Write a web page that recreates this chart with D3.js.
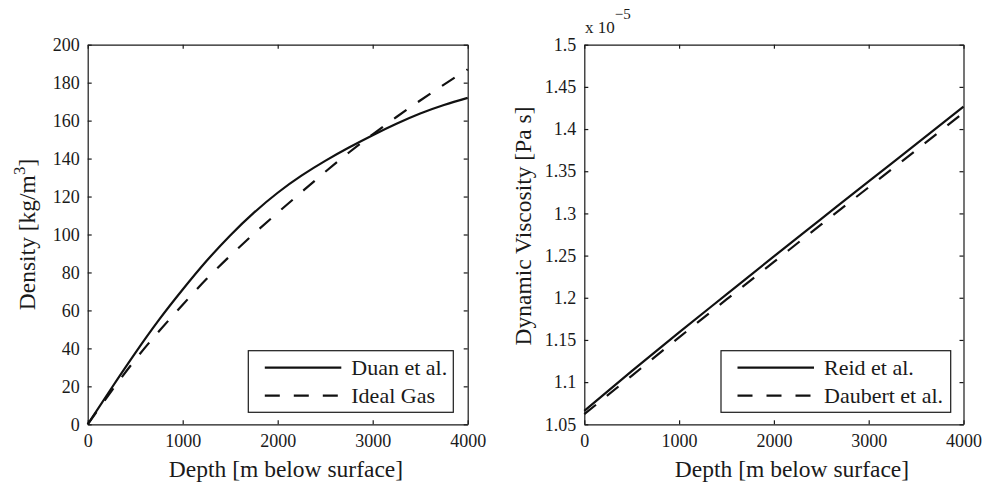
<!DOCTYPE html>
<meta charset="utf-8">
<style>
body { margin: 0; background: #fff; }
svg text { font-family: 'Liberation Serif', 'Times New Roman', serif; fill: #1a1a1a; }
.axis path, .axis line { stroke: #1a1a1a; stroke-width: 1.2; }
.axis text { font-size: 18px; }
.curve { fill: none; stroke: #111; stroke-width: 2.2; }
.dash { stroke-dasharray: 15,14; }
</style>
<body>
<script src="https://cdn.jsdelivr.net/npm/d3@7"></script>
<script>
// depth samples [m]
var depth = [0, 250, 500, 750, 1000, 1250, 1500, 1750, 2000, 2250, 2500, 2750, 3000, 3250, 3500, 3750, 4000];
// density [kg/m3]
var duan = [0, 19, 37.5, 55, 71, 86, 99.5, 111.5, 122, 131, 138.8, 145.8, 152.3, 158.3, 163.7, 168.2, 172];
var idealGas = [0, 17.5, 34, 49, 63, 76.5, 88.8, 100.4, 111.5, 122.3, 133, 143.2, 152.8, 161.9, 170.6, 179, 187];
// viscosity [1e-5 Pa s]
var depthV = [0, 500, 1000, 1500, 2000, 2500, 3000, 3500, 4000];
var reid = [1.066, 1.113, 1.159, 1.204, 1.249, 1.2935, 1.338, 1.382, 1.4265];
var daubert = [1.062, 1.1075, 1.153, 1.198, 1.2425, 1.287, 1.331, 1.375, 1.4195];

var xTicks = [0, 1000, 2000, 3000, 4000];
var densTicks = [0, 20, 40, 60, 80, 100, 120, 140, 160, 180, 200];
var viscTicks = [1.05, 1.1, 1.15, 1.2, 1.25, 1.3, 1.35, 1.4, 1.45, 1.5];

var svg = d3.select('body').append('svg')
  .attr('width', 995)
  .attr('height', 486);

function panel(opt) {
  var x = d3.scaleLinear().domain([0, 4000]).range([opt.left, opt.right]);
  var y = d3.scaleLinear().domain(opt.ydomain).range([424.3, 44.7]);
  var g = svg.append('g');

  // box: ticks on all four sides, pointing inward
  g.append('g').attr('class', 'axis')
    .attr('transform', 'translate(0,' + y.range()[0] + ')')
    .call(d3.axisBottom(x).tickValues(xTicks).tickSize(-4).tickSizeOuter(0).tickPadding(10).tickFormat(d3.format('d')));
  g.append('g').attr('class', 'axis')
    .attr('transform', 'translate(0,' + y.range()[1] + ')')
    .call(d3.axisTop(x).tickValues(xTicks).tickSize(-4).tickSizeOuter(0).tickFormat(''));
  g.append('g').attr('class', 'axis')
    .attr('transform', 'translate(' + opt.left + ',0)')
    .call(d3.axisLeft(y).tickValues(opt.yticks).tickSize(-4).tickSizeOuter(0).tickPadding(8).tickFormat(opt.yfmt));
  g.append('g').attr('class', 'axis')
    .attr('transform', 'translate(' + opt.right + ',0)')
    .call(d3.axisRight(y).tickValues(opt.yticks).tickSize(-4).tickSizeOuter(0).tickFormat(''));
  g.selectAll('.axis .tick text').attr('fill', '#1a1a1a');

  var line = d3.line().curve(d3.curveNatural);
  opt.series.forEach(function(s) {
    g.append('path')
      .attr('class', 'curve' + (s.dashed ? ' dash' : ''))
      .attr('d', line(s.xs.map(function(d, i) { return [x(d), y(s.ys[i])]; })));
  });

  // x label
  g.append('text')
    .attr('x', opt.xlabelX).attr('y', 477)
    .attr('text-anchor', 'middle')
    .style('font-size', '23.5px')
    .text('Depth [m below surface]');

  // y label
  var yl = g.append('text')
    .attr('transform', 'translate(' + opt.ylabelX + ',' + opt.ylabelY + ') rotate(-90)')
    .attr('text-anchor', 'middle')
    .style('font-size', '23.5px');
  opt.ylabel(yl);

  // legend
  var lg = g.append('g');
  lg.append('rect')
    .attr('x', opt.legX).attr('y', 350.7)
    .attr('width', opt.legW).attr('height', 61.6)
    .attr('fill', '#fff').attr('stroke', '#1a1a1a').attr('stroke-width', 1.2);
  opt.series.forEach(function(s, i) {
    var ly = 367.7 + i * 28;
    lg.append('line')
      .attr('class', 'curve' + (s.dashed ? ' dash' : ''))
      .attr('x1', opt.legX + 16.5).attr('x2', opt.legX + 93)
      .attr('y1', ly).attr('y2', ly);
    lg.append('text')
      .attr('x', opt.legX + 103).attr('y', ly + 7.3)
      .style('font-size', '22px')
      .text(s.name);
  });
}

panel({
  left: 87.7, right: 467.7,
  ydomain: [0, 200], yticks: densTicks, yfmt: d3.format('d'),
  series: [
    {name: 'Duan et al.', xs: depth, ys: duan, dashed: false},
    {name: 'Ideal Gas', xs: depth, ys: idealGas, dashed: true}
  ],
  xlabelX: 286, ylabelX: 35, ylabelY: 234.5,
  ylabel: function(t) {
    t.append('tspan').text('Density [kg/m');
    t.append('tspan').attr('dy', -10).style('font-size', '17px').text('3');
    t.append('tspan').attr('dy', 10).text(']');
  },
  legX: 248.3, legW: 205
});

panel({
  left: 584.3, right: 963.5,
  ydomain: [1.05, 1.5], yticks: viscTicks, yfmt: function(d) { return d3.format('.3~f')(d); },
  series: [
    {name: 'Reid et al.', xs: depthV, ys: reid, dashed: false},
    {name: 'Daubert et al.', xs: depthV, ys: daubert, dashed: true}
  ],
  xlabelX: 792, ylabelX: 531, ylabelY: 226,
  ylabel: function(t) { t.text('Dynamic Viscosity [Pa s]'); },
  legX: 721, legW: 229.7
});

// exponent label above the right panel
var ex = svg.append('text').attr('x', 585).attr('y', 33).style('font-size', '17px');
ex.append('tspan').text('x 10');
ex.append('tspan').attr('dy', -14).style('font-size', '15px').text('\u22125');
</script>
</body>
